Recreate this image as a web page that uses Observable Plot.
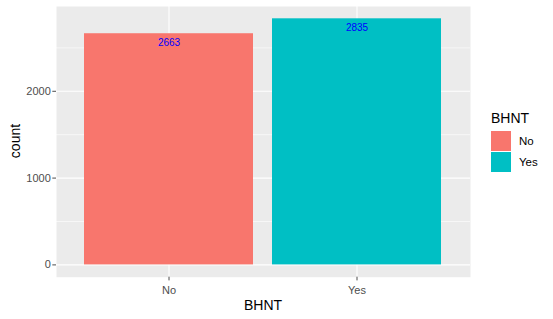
<!DOCTYPE html>
<html>
<head>
<meta charset="utf-8">
<script src="https://cdn.jsdelivr.net/npm/d3@7"></script>
<script src="https://cdn.jsdelivr.net/npm/@observablehq/plot@0.6"></script>
<style>
  html, body { margin: 0; padding: 0; background: white; }
  #wrap { position: relative; width: 553px; height: 319px; font-family: "Liberation Sans", Arial, sans-serif; }
  .title { position: absolute; font-size: 14px; color: #000; line-height: 1; white-space: nowrap; }
  .key { position: absolute; width: 20px; height: 20px; }
  .klab { position: absolute; font-size: 11.5px; color: #000; line-height: 1; }
</style>
</head>
<body>
<div id="wrap"></div>
<script>
const categories = ["No", "Yes"];
const counts = [2663, 2835];
const yTicks = [0, 1000, 2000];
const yMinor = [500, 1500, 2500];
const colors = ["#F8766D", "#00BFC4"];
const xTitle = "BHNT";
const yTitle = "count";
const legendTitle = "BHNT";

const data = categories.map((c, i) => ({BHNT: c, count: counts[i]}));
const yMax = d3.max(counts);
const pad = yMax * 0.05;

const chart = Plot.plot({
  width: 553,
  height: 319,
  marginLeft: 56,
  marginRight: 83,
  marginTop: 6,
  marginBottom: 42.3,
  x: {domain: categories, paddingInner: 0.1, paddingOuter: 0.151, axis: null},
  y: {domain: [-pad, yMax + pad], axis: null},
  color: {domain: categories, range: colors},
  style: {fontFamily: '"Liberation Sans", Arial, sans-serif', background: "white", overflow: "visible"},
  marks: [
    Plot.frame({fill: "#EBEBEB", stroke: null}),
    Plot.ruleY(yMinor, {stroke: "white", strokeWidth: 0.6}),
    Plot.ruleY(yTicks, {stroke: "white", strokeWidth: 1.1}),
    Plot.ruleX(categories, {x: d => d, stroke: "white", strokeWidth: 1.1}),
    Plot.barY(data, {x: "BHNT", y: "count", fill: "BHNT"}),
    Plot.text(data, {x: "BHNT", y: "count", text: d => String(d.count), dy: 9, fill: "blue", fontSize: 10}),
    Plot.axisY(yTicks, {tickSize: 3.7, tickPadding: 2, fontSize: 11, color: "#4D4D4D", label: null, tickFormat: d => String(d)}),
    Plot.axisX(categories, {tickSize: 3.7, tickPadding: 5, fontSize: 11, color: "#4D4D4D", label: null})
  ]
});

const wrap = document.getElementById("wrap");
wrap.appendChild(chart);
chart.style.position = "absolute";
chart.style.left = "0px";
chart.style.top = "0px";

function addDiv(cls, text, css) {
  const d = document.createElement("div");
  d.className = cls;
  if (text != null) d.textContent = text;
  Object.assign(d.style, css);
  wrap.appendChild(d);
  return d;
}

// axis titles
addDiv("title", xTitle, {left: "263px", top: "298px", transform: "translateX(-50%)"});
addDiv("title", yTitle, {left: "15px", top: "141px", transform: "translate(-50%, -50%) rotate(-90deg)"});

// legend
addDiv("title", legendTitle, {left: "491px", top: "111px"});
categories.forEach((c, i) => {
  const top = 131 + i * 21.3;
  addDiv("key", null, {left: "491px", top: top + "px", background: colors[i]});
  addDiv("klab", c, {left: "519px", top: (top + 5) + "px"});
});
</script>
</body>
</html>
